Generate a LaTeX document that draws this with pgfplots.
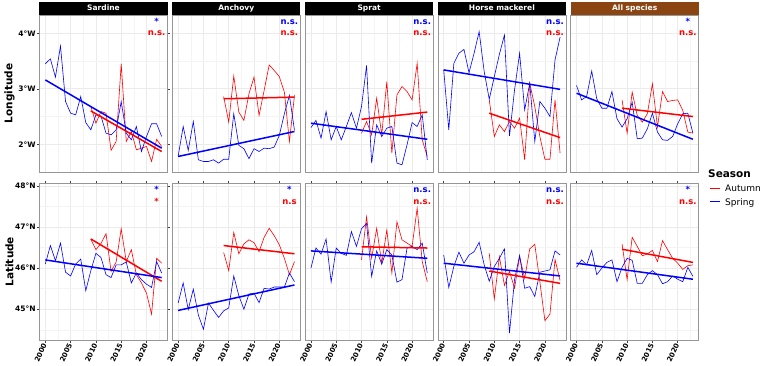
\documentclass[border=0pt]{standalone}
\usepackage{fontspec}
\setmainfont{DejaVu Sans}
\usepackage{pgfplots}
\usepackage{pgfplotstable}
\pgfplotsset{compat=1.18}

\definecolor{springblue}{RGB}{0,0,255}
\definecolor{autumnred}{RGB}{255,0,0}
\definecolor{gridc}{RGB}{235,235,235}
\definecolor{gridm}{RGB}{244,244,244}
\definecolor{framec}{RGB}{150,150,150}
\definecolor{stripbrown}{RGB}{139,69,19}

% Mean longitude (degrees W), spring survey
\pgfplotstableread{
year sardine anchovy sprat horse all
2000 3.45 1.78 2.30 3.34 3.06
2001 3.54 2.32 2.43 2.26 2.80
2002 3.21 1.89 2.11 3.46 2.86
2003 3.77 2.41 2.59 3.64 3.32
2004 2.77 1.72 2.08 3.71 2.82
2005 2.56 1.69 2.32 3.29 2.65
2006 2.53 1.69 2.08 3.64 2.65
2007 2.86 1.72 2.32 4.03 2.95
2008 2.39 1.66 2.57 3.31 2.46
2009 2.26 1.73 2.29 2.81 2.31
2010 2.53 1.73 2.68 3.22 2.46
2011 2.51 2.55 3.42 3.62 2.76
2012 2.20 1.98 1.66 3.97 2.10
2013 2.17 1.92 2.35 2.15 2.11
2014 2.26 1.74 2.14 2.98 2.28
2015 2.77 1.92 2.29 3.64 2.56
2016 2.20 1.87 2.32 2.62 2.22
2017 2.08 1.93 1.66 3.10 2.08
2018 2.32 1.92 1.63 2.05 2.07
2019 1.87 1.95 1.99 2.77 2.14
2020 2.14 2.16 2.39 2.65 2.37
2021 2.37 2.55 2.32 2.50 2.55
2022 2.37 2.88 2.53 3.52 2.56
2023 2.14 2.25 1.72 3.93 2.20
}\lonSpr

% Mean longitude (degrees W), autumn survey
\pgfplotstableread{
year sardine anchovy sprat horse all
2009 2.68 2.86 nan  2.80 2.80
2010 2.38 2.40 2.20 2.14 2.20
2011 2.59 3.23 2.41 2.35 2.94
2012 2.56 2.58 2.17 2.23 2.52
2013 1.89 2.43 2.83 2.41 2.40
2014 2.05 2.91 2.17 2.29 2.55
2015 3.45 3.21 3.13 2.47 3.09
2016 2.05 2.52 1.84 1.72 2.31
2017 2.23 2.97 2.89 3.10 2.95
2018 1.90 3.43 3.04 2.68 2.77
2019 1.93 3.33 2.95 2.14 2.79
2020 1.96 3.22 2.80 1.73 2.80
2021 1.69 2.94 3.46 1.73 2.61
2022 2.09 2.05 2.08 2.80 2.22
2023 1.96 2.88 1.78 1.84 2.20
}\lonAut

% Mean latitude (degrees N), spring survey
\pgfplotstableread{
year sardine anchovy sprat horse all
2000 46.10 45.15 46.00 46.32 46.02
2001 46.55 45.64 46.49 45.53 46.20
2002 46.18 44.99 46.34 46.04 46.08
2003 46.61 45.49 46.71 46.39 46.43
2004 45.90 44.86 45.66 46.12 45.84
2005 45.81 44.51 46.49 46.32 46.00
2006 46.10 45.15 46.36 46.40 46.14
2007 46.22 44.97 46.31 46.63 46.20
2008 45.45 44.80 46.89 46.08 45.67
2009 45.94 44.96 46.53 45.68 46.02
2010 46.36 45.03 46.96 46.04 46.24
2011 46.26 45.81 47.09 46.24 46.19
2012 45.84 45.33 45.80 46.47 45.63
2013 45.77 45.00 46.42 44.42 45.63
2014 46.08 45.37 46.10 45.72 45.84
2015 46.08 45.39 46.45 46.31 45.94
2016 46.15 45.16 46.32 45.51 45.84
2017 45.64 45.51 45.66 45.55 45.62
2018 45.88 45.49 45.72 45.31 45.67
2019 45.72 45.54 46.49 45.90 45.81
2020 45.61 45.54 46.53 45.93 45.73
2021 45.53 45.54 46.45 45.96 45.67
2022 46.16 45.88 46.61 46.42 46.02
2023 45.88 45.67 45.88 46.32 45.80
}\latSpr

% Mean latitude (degrees N), autumn survey
\pgfplotstableread{
year sardine anchovy sprat horse all
2009 46.70 46.38 nan   46.36 46.59
2010 46.45 45.94 46.20 45.25 45.72
2011 46.60 46.87 47.25 46.28 46.75
2012 46.84 46.35 46.24 45.58 46.53
2013 45.92 46.59 46.97 45.92 46.30
2014 46.15 46.69 46.12 45.51 46.35
2015 46.96 46.62 46.93 46.28 46.43
2016 46.16 46.40 45.88 45.75 46.16
2017 46.45 46.75 47.13 46.47 46.67
2018 45.84 46.97 46.69 46.58 46.45
2019 45.64 46.79 46.61 45.67 46.24
2020 45.39 46.57 46.53 44.72 46.12
2021 44.88 46.24 47.46 44.88 45.97
2022 46.24 45.84 46.16 46.21 46.06
2023 46.12 46.16 45.67 45.70 46.08
}\latAut

\tikzset{sig/.style={font=\bfseries\fontsize{8.5}{10}\selectfont, anchor=center}}

\pgfplotsset{
  panel/.style={
    scale only axis, width=128pt,
    xmin=1998.85, xmax=2024.15,
    xtick={2000,2005,...,2020},
    minor xtick={2002.5,2007.5,2012.5,2017.5,2022.5},
    grid=both,
    major grid style={draw=gridc, line width=0.6pt},
    minor grid style={draw=gridm, line width=0.35pt},
    axis line style={draw=framec, line width=0.7pt},
    tick align=outside, major tick length=2.5pt, minor tick length=0pt,
    tick style={draw=black!75, line width=0.5pt},
    /pgf/number format/assume math mode=true,
    /pgf/number format/1000 sep={},
    yticklabel style={font=\bfseries\fontsize{7.5}{9}\selectfont, text=black, inner sep=1.2pt},
    xticklabel style={font=\bfseries\fontsize{7}{8}\selectfont, text=black, inner sep=1.2pt},
    every axis title/.style={at={(0.5,1)}, anchor=south, fill=black, text=white,
      font=\bfseries\fontsize{7.5}{9}\selectfont, minimum width=128pt,
      minimum height=13pt, inner sep=0pt, text height=5.6pt, text depth=1.4pt},
    ylabel style={at={(axis description cs:-0.235,0.5)}, anchor=center,
      font=\bfseries\fontsize{10.5}{12}\selectfont},
    clip=true,
  },
  toprow/.style={panel, height=157pt, ymin=1.50, ymax=4.33,
    ytick={2,3,4}, minor ytick={1.5,2.5,3.5},
    yticklabels={2°W,3°W,4°W},
    xticklabels={}, x tick style={draw=none}},
  botrow/.style={panel, height=156.7pt, ymin=44.25, ymax=48.066,
    ytick={45,46,47,48}, minor ytick={44.5,45.5,46.5,47.5},
    yticklabels={45°N,46°N,47°N,48°N},
    xticklabel style={rotate=65, anchor=east}},
  inner/.style={yticklabels={}, y tick style={draw=none}},
  dataline/.style={line width=0.6pt, mark=none, forget plot},
  trend/.style={line width=1.5pt, mark=none, forget plot},
}

% colour key used in the season legend
\newcommand{\seasonkey}[1]{\textcolor{#1}{\rule[0.3em]{10pt}{1.4pt}}}

\begin{document}
\begin{tikzpicture}
\useasboundingbox (0pt,0pt) rectangle (760pt,365pt);

% ---------------- Longitude row ----------------
\begin{axis}[toprow, at={(39.5pt,193pt)}, anchor=south west,
  title={Sardine}, ylabel={Longitude}]
\addplot[autumnred, dataline] table[x=year, y=sardine] {\lonAut};
\addplot[springblue, dataline] table[x=year, y=sardine] {\lonSpr};
\addplot[autumnred, trend] coordinates {(2009,2.60) (2023,1.87)};
\addplot[springblue, trend] coordinates {(2000,3.16) (2023,1.93)};
\node[sig, text=springblue] at (axis cs:2022,4.22) {*};
\node[sig, text=autumnred] at (axis cs:2022,4.00) {n.s.};
\end{axis}

\begin{axis}[toprow, inner, at={(172.3pt,193pt)}, anchor=south west,
  title={Anchovy}]
\addplot[autumnred, dataline] table[x=year, y=anchovy] {\lonAut};
\addplot[springblue, dataline] table[x=year, y=anchovy] {\lonSpr};
\addplot[autumnred, trend] coordinates {(2009,2.82) (2023,2.85)};
\addplot[springblue, trend] coordinates {(2000,1.78) (2023,2.23)};
\node[sig, text=springblue] at (axis cs:2022,4.20) {n.s.};
\node[sig, text=autumnred] at (axis cs:2022,4.00) {n.s.};
\end{axis}

\begin{axis}[toprow, inner, at={(305.1pt,193pt)}, anchor=south west,
  title={Sprat}]
\addplot[autumnred, dataline] table[x=year, y=sprat] {\lonAut};
\addplot[springblue, dataline] table[x=year, y=sprat] {\lonSpr};
\addplot[autumnred, trend] coordinates {(2010,2.45) (2023,2.58)};
\addplot[springblue, trend] coordinates {(2000,2.38) (2023,2.09)};
\node[sig, text=springblue] at (axis cs:2022,4.20) {n.s.};
\node[sig, text=autumnred] at (axis cs:2022,4.00) {n.s.};
\end{axis}

\begin{axis}[toprow, inner, at={(437.9pt,193pt)}, anchor=south west,
  title={Horse mackerel}]
\addplot[autumnred, dataline] table[x=year, y=horse] {\lonAut};
\addplot[springblue, dataline] table[x=year, y=horse] {\lonSpr};
\addplot[autumnred, trend] coordinates {(2009,2.56) (2023,2.12)};
\addplot[springblue, trend] coordinates {(2000,3.34) (2023,2.99)};
\node[sig, text=springblue] at (axis cs:2022,4.20) {n.s.};
\node[sig, text=autumnred] at (axis cs:2022,4.00) {n.s.};
\end{axis}

\begin{axis}[toprow, inner, at={(570.7pt,193pt)}, anchor=south west,
  title={All species}, title style={fill=stripbrown}]
\addplot[autumnred, dataline] table[x=year, y=all] {\lonAut};
\addplot[springblue, dataline] table[x=year, y=all] {\lonSpr};
\addplot[autumnred, trend] coordinates {(2009,2.65) (2023,2.50)};
\addplot[springblue, trend] coordinates {(2000,2.92) (2023,2.09)};
\node[sig, text=springblue] at (axis cs:2022,4.22) {*};
\node[sig, text=autumnred] at (axis cs:2022,4.00) {n.s.};
\end{axis}

% ---------------- Latitude row ----------------
\begin{axis}[botrow, at={(39.5pt,25pt)}, anchor=south west,
  ylabel={Latitude}]
\addplot[autumnred, dataline] table[x=year, y=sardine] {\latAut};
\addplot[springblue, dataline] table[x=year, y=sardine] {\latSpr};
\addplot[autumnred, trend] coordinates {(2009,46.71) (2023,45.68)};
\addplot[springblue, trend] coordinates {(2000,46.20) (2023,45.77)};
\node[sig, text=springblue] at (axis cs:2022,47.93) {*};
\node[sig, text=autumnred] at (axis cs:2022,47.63) {*};
\end{axis}

\begin{axis}[botrow, inner, at={(172.3pt,25pt)}, anchor=south west]
\addplot[autumnred, dataline] table[x=year, y=anchovy] {\latAut};
\addplot[springblue, dataline] table[x=year, y=anchovy] {\latSpr};
\addplot[autumnred, trend] coordinates {(2009,46.55) (2023,46.35)};
\addplot[springblue, trend] coordinates {(2000,44.97) (2023,45.59)};
\node[sig, text=springblue] at (axis cs:2022,47.93) {*};
\node[sig, text=autumnred] at (axis cs:2022,47.60) {n.s};
\end{axis}

\begin{axis}[botrow, inner, at={(305.1pt,25pt)}, anchor=south west]
\addplot[autumnred, dataline] table[x=year, y=sprat] {\latAut};
\addplot[springblue, dataline] table[x=year, y=sprat] {\latSpr};
\addplot[autumnred, trend] coordinates {(2010,46.52) (2023,46.49)};
\addplot[springblue, trend] coordinates {(2000,46.42) (2023,46.24)};
\node[sig, text=springblue] at (axis cs:2022,47.90) {n.s.};
\node[sig, text=autumnred] at (axis cs:2022,47.60) {n.s.};
\end{axis}

\begin{axis}[botrow, inner, at={(437.9pt,25pt)}, anchor=south west]
\addplot[autumnred, dataline] table[x=year, y=horse] {\latAut};
\addplot[springblue, dataline] table[x=year, y=horse] {\latSpr};
\addplot[autumnred, trend] coordinates {(2009,45.93) (2023,45.63)};
\addplot[springblue, trend] coordinates {(2000,46.12) (2023,45.81)};
\node[sig, text=springblue] at (axis cs:2022,47.90) {n.s.};
\node[sig, text=autumnred] at (axis cs:2022,47.60) {n.s.};
\end{axis}

\begin{axis}[botrow, inner, at={(570.7pt,25pt)}, anchor=south west]
\addplot[autumnred, dataline] table[x=year, y=all] {\latAut};
\addplot[springblue, dataline] table[x=year, y=all] {\latSpr};
\addplot[autumnred, trend] coordinates {(2009,46.46) (2023,46.14)};
\addplot[springblue, trend] coordinates {(2000,46.12) (2023,45.73)};
\node[sig, text=springblue] at (axis cs:2022,47.93) {*};
\node[sig, text=autumnred] at (axis cs:2022,47.60) {n.s.};
\end{axis}

% season legend
\node[anchor=west, font=\bfseries\fontsize{10.5}{12}\selectfont, inner sep=0pt]
  at (708pt,191.7pt) {Season};
\node[anchor=base west, font=\fontsize{9}{10.5}\selectfont, inner sep=0pt]
  at (710pt,173.4pt) {\seasonkey{autumnred}\hspace{5pt}Autumn};
\node[anchor=base west, font=\fontsize{9}{10.5}\selectfont, inner sep=0pt]
  at (710pt,160pt) {\seasonkey{springblue}\hspace{5pt}Spring};
\end{tikzpicture}
\end{document}
